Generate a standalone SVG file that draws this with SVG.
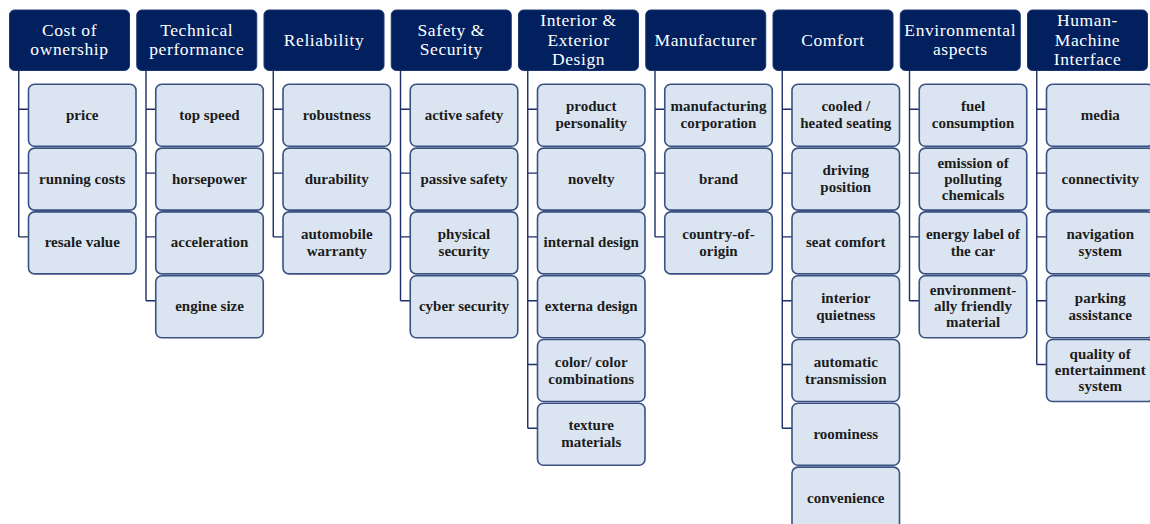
<svg xmlns="http://www.w3.org/2000/svg" width="1150" height="524" viewBox="0 0 1150 524">
<style>
.hd{fill:#02205e;stroke:#1a3570;stroke-width:1}
.ch{fill:#dbe5f1;stroke:#3a5282;stroke-width:1.6}
.ht{font-family:"Liberation Serif","DejaVu Serif",serif;font-size:17.5px;letter-spacing:0.6px;fill:#ffffff;text-anchor:middle}
.ct{font-family:"Liberation Serif","DejaVu Serif",serif;font-size:15px;font-weight:bold;fill:#1c1c1c;text-anchor:middle}
.cn{fill:none;stroke:#1b2f66;stroke-width:1.4}
</style>
<rect width="1150" height="524" fill="#ffffff"/>
<g id="connectors">
<path class="cn" d="M18.75 70.5V236.9M18.75 109.3H28.5M18.75 173.1H28.5M18.75 236.9H28.5"/>
<path class="cn" d="M146 70.5V300.7M146 109.3H155.75M146 173.1H155.75M146 236.9H155.75M146 300.7H155.75"/>
<path class="cn" d="M273.25 70.5V236.9M273.25 109.3H283M273.25 173.1H283M273.25 236.9H283"/>
<path class="cn" d="M400.5 70.5V300.7M400.5 109.3H410.25M400.5 173.1H410.25M400.5 236.9H410.25M400.5 300.7H410.25"/>
<path class="cn" d="M527.75 70.5V428.3M527.75 109.3H537.5M527.75 173.1H537.5M527.75 236.9H537.5M527.75 300.7H537.5M527.75 364.5H537.5M527.75 428.3H537.5"/>
<path class="cn" d="M655 70.5V236.9M655 109.3H664.75M655 173.1H664.75M655 236.9H664.75"/>
<path class="cn" d="M782.25 70.5V428.3M782.25 109.3H792M782.25 173.1H792M782.25 236.9H792M782.25 300.7H792M782.25 364.5H792M782.25 428.3H792"/>
<path class="cn" d="M909.5 70.5V300.7M909.5 109.3H919.25M909.5 173.1H919.25M909.5 236.9H919.25M909.5 300.7H919.25"/>
<path class="cn" d="M1036.75 70.5V364.5M1036.75 109.3H1046.5M1036.75 173.1H1046.5M1036.75 236.9H1046.5M1036.75 300.7H1046.5M1036.75 364.5H1046.5"/>
</g>
<g id="col-cost">
<rect class="hd" x="9.5" y="10" width="120" height="60.5" rx="5"/>
<text class="ht"><tspan x="69.5" y="35.5">Cost of</tspan><tspan x="69.5" y="55">ownership</tspan></text>
<g id="cost-price"><rect class="ch" x="28.5" y="84.3" width="107.5" height="62" rx="6"/><text class="ct" x="82.25" y="119.8">price</text></g>
<g id="cost-running"><rect class="ch" x="28.5" y="148.1" width="107.5" height="62" rx="6"/><text class="ct" x="82.25" y="183.6">running costs</text></g>
<g id="cost-resale"><rect class="ch" x="28.5" y="211.9" width="107.5" height="62" rx="6"/><text class="ct" x="82.25" y="247.4">resale value</text></g>
</g>
<g id="col-tech">
<rect class="hd" x="136.75" y="10" width="120" height="60.5" rx="5"/>
<text class="ht"><tspan x="196.75" y="35.5">Technical</tspan><tspan x="196.75" y="55">performance</tspan></text>
<g id="tech-speed"><rect class="ch" x="155.75" y="84.3" width="107.5" height="62" rx="6"/><text class="ct" x="209.5" y="119.8">top speed</text></g>
<g id="tech-hp"><rect class="ch" x="155.75" y="148.1" width="107.5" height="62" rx="6"/><text class="ct" x="209.5" y="183.6">horsepower</text></g>
<g id="tech-acc"><rect class="ch" x="155.75" y="211.9" width="107.5" height="62" rx="6"/><text class="ct" x="209.5" y="247.4">acceleration</text></g>
<g id="tech-engine"><rect class="ch" x="155.75" y="275.7" width="107.5" height="62" rx="6"/><text class="ct" x="209.5" y="311.2">engine size</text></g>
</g>
<g id="col-rel">
<rect class="hd" x="264" y="10" width="120" height="60.5" rx="5"/>
<text class="ht" x="324" y="45.5">Reliability</text>
<g id="rel-rob"><rect class="ch" x="283" y="84.3" width="107.5" height="62" rx="6"/><text class="ct" x="336.75" y="119.8">robustness</text></g>
<g id="rel-dur"><rect class="ch" x="283" y="148.1" width="107.5" height="62" rx="6"/><text class="ct" x="336.75" y="183.6">durability</text></g>
<g id="rel-war"><rect class="ch" x="283" y="211.9" width="107.5" height="62" rx="6"/><text class="ct"><tspan x="336.75" y="238.9">automobile</tspan><tspan x="336.75" y="255.9">warranty</tspan></text></g>
</g>
<g id="col-safety">
<rect class="hd" x="391.25" y="10" width="120" height="60.5" rx="5"/>
<text class="ht"><tspan x="451.25" y="35.5">Safety &amp;</tspan><tspan x="451.25" y="55">Security</tspan></text>
<g id="saf-active"><rect class="ch" x="410.25" y="84.3" width="107.5" height="62" rx="6"/><text class="ct" x="464" y="119.8">active safety</text></g>
<g id="saf-passive"><rect class="ch" x="410.25" y="148.1" width="107.5" height="62" rx="6"/><text class="ct" x="464" y="183.6">passive safety</text></g>
<g id="saf-phys"><rect class="ch" x="410.25" y="211.9" width="107.5" height="62" rx="6"/><text class="ct"><tspan x="464" y="238.9">physical</tspan><tspan x="464" y="255.9">security</tspan></text></g>
<g id="saf-cyber"><rect class="ch" x="410.25" y="275.7" width="107.5" height="62" rx="6"/><text class="ct" x="464" y="311.2">cyber security</text></g>
</g>
<g id="col-design">
<rect class="hd" x="518.5" y="10" width="120" height="60.5" rx="5"/>
<text class="ht"><tspan x="578.5" y="26">Interior &amp;</tspan><tspan x="578.5" y="45.5">Exterior</tspan><tspan x="578.5" y="65">Design</tspan></text>
<g id="des-pers"><rect class="ch" x="537.5" y="84.3" width="107.5" height="62" rx="6"/><text class="ct"><tspan x="591.25" y="111.3">product</tspan><tspan x="591.25" y="128.3">personality</tspan></text></g>
<g id="des-nov"><rect class="ch" x="537.5" y="148.1" width="107.5" height="62" rx="6"/><text class="ct" x="591.25" y="183.6">novelty</text></g>
<g id="des-int"><rect class="ch" x="537.5" y="211.9" width="107.5" height="62" rx="6"/><text class="ct" x="591.25" y="247.4">internal design</text></g>
<g id="des-ext"><rect class="ch" x="537.5" y="275.7" width="107.5" height="62" rx="6"/><text class="ct" x="591.25" y="311.2">externa design</text></g>
<g id="des-color"><rect class="ch" x="537.5" y="339.5" width="107.5" height="62" rx="6"/><text class="ct"><tspan x="591.25" y="366.5">color/ color</tspan><tspan x="591.25" y="383.5">combinations</tspan></text></g>
<g id="des-tex"><rect class="ch" x="537.5" y="403.3" width="107.5" height="62" rx="6"/><text class="ct"><tspan x="591.25" y="430.3">texture</tspan><tspan x="591.25" y="447.3">materials</tspan></text></g>
</g>
<g id="col-manu">
<rect class="hd" x="645.75" y="10" width="120" height="60.5" rx="5"/>
<text class="ht" x="705.75" y="45.5">Manufacturer</text>
<g id="man-corp"><rect class="ch" x="664.75" y="84.3" width="107.5" height="62" rx="6"/><text class="ct"><tspan x="718.5" y="111.3">manufacturing</tspan><tspan x="718.5" y="128.3">corporation</tspan></text></g>
<g id="man-brand"><rect class="ch" x="664.75" y="148.1" width="107.5" height="62" rx="6"/><text class="ct" x="718.5" y="183.6">brand</text></g>
<g id="man-origin"><rect class="ch" x="664.75" y="211.9" width="107.5" height="62" rx="6"/><text class="ct"><tspan x="718.5" y="238.9">country-of-</tspan><tspan x="718.5" y="255.9">origin</tspan></text></g>
</g>
<g id="col-comfort">
<rect class="hd" x="773" y="10" width="120" height="60.5" rx="5"/>
<text class="ht" x="833" y="45.5">Comfort</text>
<g id="com-seat"><rect class="ch" x="792" y="84.3" width="107.5" height="62" rx="6"/><text class="ct"><tspan x="845.75" y="111.3">cooled /</tspan><tspan x="845.75" y="128.3">heated seating</tspan></text></g>
<g id="com-drive"><rect class="ch" x="792" y="148.1" width="107.5" height="62" rx="6"/><text class="ct"><tspan x="845.75" y="175.1">driving</tspan><tspan x="845.75" y="192.1">position</tspan></text></g>
<g id="com-seatc"><rect class="ch" x="792" y="211.9" width="107.5" height="62" rx="6"/><text class="ct" x="845.75" y="247.4">seat comfort</text></g>
<g id="com-quiet"><rect class="ch" x="792" y="275.7" width="107.5" height="62" rx="6"/><text class="ct"><tspan x="845.75" y="302.7">interior</tspan><tspan x="845.75" y="319.7">quietness</tspan></text></g>
<g id="com-auto"><rect class="ch" x="792" y="339.5" width="107.5" height="62" rx="6"/><text class="ct"><tspan x="845.75" y="366.5">automatic</tspan><tspan x="845.75" y="383.5">transmission</tspan></text></g>
<g id="com-room"><rect class="ch" x="792" y="403.3" width="107.5" height="62" rx="6"/><text class="ct" x="845.75" y="438.8">roominess</text></g>
<g id="com-conv"><rect class="ch" x="792" y="467.1" width="107.5" height="62" rx="6"/><text class="ct" x="845.75" y="502.6">convenience</text></g>
</g>
<g id="col-env">
<rect class="hd" x="900.25" y="10" width="120" height="60.5" rx="5"/>
<text class="ht"><tspan x="960.25" y="35.5">Environmental</tspan><tspan x="960.25" y="55">aspects</tspan></text>
<g id="env-fuel"><rect class="ch" x="919.25" y="84.3" width="107.5" height="62" rx="6"/><text class="ct"><tspan x="973" y="111.3">fuel</tspan><tspan x="973" y="128.3">consumption</tspan></text></g>
<g id="env-emis"><rect class="ch" x="919.25" y="148.1" width="107.5" height="62" rx="6"/><text class="ct"><tspan x="973" y="167.6">emission of</tspan><tspan x="973" y="183.6">polluting</tspan><tspan x="973" y="199.6">chemicals</tspan></text></g>
<g id="env-label"><rect class="ch" x="919.25" y="211.9" width="107.5" height="62" rx="6"/><text class="ct"><tspan x="973" y="238.9">energy label of</tspan><tspan x="973" y="255.9">the car</tspan></text></g>
<g id="env-mat"><rect class="ch" x="919.25" y="275.7" width="107.5" height="62" rx="6"/><text class="ct"><tspan x="973" y="295.2">environment-</tspan><tspan x="973" y="311.2">ally friendly</tspan><tspan x="973" y="327.2">material</tspan></text></g>
</g>
<g id="col-hmi">
<rect class="hd" x="1027.5" y="10" width="120" height="60.5" rx="5"/>
<text class="ht"><tspan x="1087.5" y="26">Human-</tspan><tspan x="1087.5" y="45.5">Machine</tspan><tspan x="1087.5" y="65">Interface</tspan></text>
<g id="hmi-media"><rect class="ch" x="1046.5" y="84.3" width="107.5" height="62" rx="6"/><text class="ct" x="1100.25" y="119.8">media</text></g>
<g id="hmi-conn"><rect class="ch" x="1046.5" y="148.1" width="107.5" height="62" rx="6"/><text class="ct" x="1100.25" y="183.6">connectivity</text></g>
<g id="hmi-nav"><rect class="ch" x="1046.5" y="211.9" width="107.5" height="62" rx="6"/><text class="ct"><tspan x="1100.25" y="238.9">navigation</tspan><tspan x="1100.25" y="255.9">system</tspan></text></g>
<g id="hmi-park"><rect class="ch" x="1046.5" y="275.7" width="107.5" height="62" rx="6"/><text class="ct"><tspan x="1100.25" y="302.7">parking</tspan><tspan x="1100.25" y="319.7">assistance</tspan></text></g>
<g id="hmi-ent"><rect class="ch" x="1046.5" y="339.5" width="107.5" height="62" rx="6"/><text class="ct"><tspan x="1100.25" y="359">quality of</tspan><tspan x="1100.25" y="375">entertainment</tspan><tspan x="1100.25" y="391">system</tspan></text></g>
</g>
</svg>
